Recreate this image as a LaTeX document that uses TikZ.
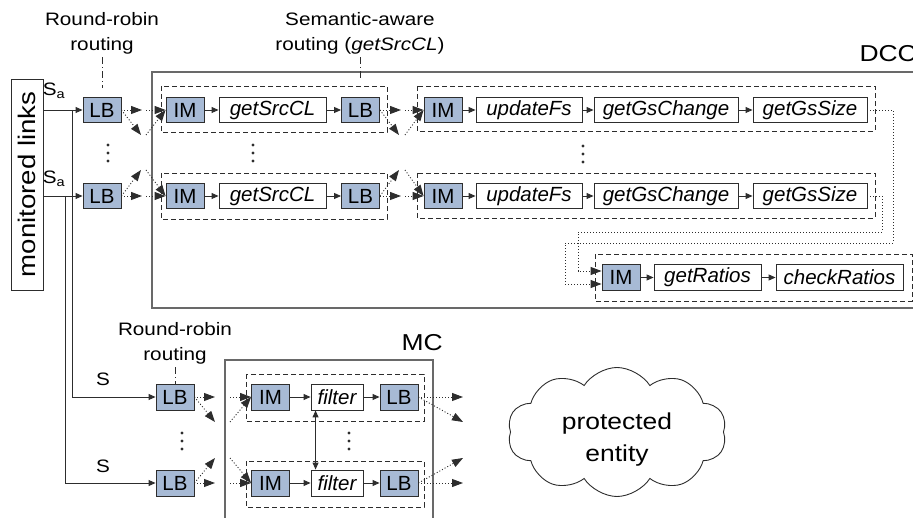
\documentclass[tikz,border=0pt]{standalone}
\usepackage{fontspec}
\setmainfont[FakeStretch=1.15]{Liberation Sans}
\newfontfamily\boxfam{Liberation Sans}
\usetikzlibrary{arrows.meta,shapes.symbols}

\definecolor{lbblue}{RGB}{167,186,213}
\definecolor{edgegray}{RGB}{45,45,45}
\definecolor{framegray}{RGB}{105,105,105}

\newcommand{\boxfont}{\boxfam\fontsize{20.5}{22}\selectfont}
\newcommand{\lblfont}{\fontsize{18}{25}\selectfont}
\newcommand{\bigfont}{\fontsize{23}{32}\selectfont}

\tikzset{
  blk/.style={draw=edgegray, line width=0.9pt, fill=lbblue, minimum width=38pt,
    minimum height=25pt, inner sep=0pt, font=\boxfont},
  fn/.style={draw=edgegray, line width=0.9pt, fill=white, minimum height=25pt,
    inner sep=0pt, font=\boxfont\itshape},
  grp/.style={draw=edgegray, line width=0.9pt, dash pattern=on 5pt off 3pt},
  frame/.style={draw=framegray, line width=1.4pt},
  link/.style={draw=edgegray, line width=0.9pt, -{Triangle[length=7pt,width=6pt]}},
  fan/.style={draw=edgegray, line width=0.9pt, dash pattern=on 1pt off 2pt,
    -{Triangle[length=11pt,width=8pt]}},
  marker/.style={draw=edgegray, line width=0.7pt, dash pattern=on 7pt off 3pt on 1pt off 3pt},
  vdot/.style={fill=edgegray},
}

\begin{document}
\begin{tikzpicture}[x=1pt,y=-1pt]
    \useasboundingbox (0,0) rectangle (913,518);

    % containers
    \draw[frame] (152,72) rectangle (920,308);
    \node[font=\bigfont, anchor=west] (dcc) at (856,54) {DCC};
    \draw[frame] (225,360) rectangle (433,530);
    \node[font=\bigfont, anchor=west] (mc) at (398,343) {MC};

    % dashed operator groups
    \draw[grp] (161,86) rectangle (387,132);
    \draw[grp] (161,173) rectangle (387,219);
    \draw[grp] (417,86) rectangle (875,131);
    \draw[grp] (417,173) rectangle (875,218);
    \draw[grp] (595,254) rectangle (912,301);
    \draw[grp] (246,374) rectangle (424,421);
    \draw[grp] (246,461) rectangle (424,507);

    % input
    \node[draw=edgegray, line width=0.9pt, rotate=90, minimum width=211pt, minimum height=32pt,
      inner sep=0pt, font=\fontsize{24}{26}\selectfont] (ml) at (27,184.5) {monitored links};

    % DCC rows
    \foreach \r/\y/\d in {1/110/25, 2/196/-26} {
        \node[blk] (lb\r) at (102,\y) {LB};
        \node[blk] (ima\r) at (185,\y) {IM};
        \node[fn, minimum width=107pt] (src\r) at (272.5,\y) {getSrcCL};
        \node[blk] (lba\r) at (360.5,\y) {LB};
        \node[blk] (imb\r) at (443,\y) {IM};
        \node[fn, minimum width=106pt] (upd\r) at (529,\y) {updateFs};
        \node[fn, minimum width=144pt] (chg\r) at (666,\y) {getGsChange};
        \node[fn, minimum width=114pt] (gsz\r) at (810,\y) {getGsSize};
        \draw[link] (ima\r) -- (src\r);
        \draw[link] (src\r) -- (lba\r);
        \draw[link] (imb\r) -- (upd\r);
        \draw[link] (upd\r) -- (chg\r);
        \draw[link] (chg\r) -- (gsz\r);
        % into DCC
        \coordinate (eh\r) at (142,\y);
        \coordinate (ed\r) at (141,{\y+(\d)});
        \coordinate (fh\r) at (146,\y);
        \coordinate (fd\r) at (146,{\y+(\d)});
        \draw[fan] (lb\r.east) -- (eh\r);
        \draw[fan] (lb\r.east) -- (ed\r);
        \draw[fan] (fh\r) -- (ima\r.west);
        \draw[fan] (fd\r) -- (ima\r.west);
        % between the two stages
        \coordinate (gh\r) at (401,\y);
        \coordinate (gd\r) at (399,{\y+(\d)});
        \coordinate (hh\r) at (405,\y);
        \coordinate (hd\r) at (405,{\y+(\d)});
        \draw[fan] (lba\r.east) -- (gh\r);
        \draw[fan] (lba\r.east) -- (gd\r);
        \draw[fan] (hh\r) -- (imb\r.west);
        \draw[fan] (hd\r) -- (imb\r.west);
    }

    % ratio group
    \node[blk, minimum height=26pt] (imc) at (621,277.5) {IM};
    \node[fn, minimum width=107pt, minimum height=26pt] (rat) at (707.5,277.5) {getRatios};
    \node[fn, minimum width=127pt, minimum height=26pt] (chk) at (839.5,277.5) {checkRatios};
    \draw[link] (imc) -- (rat);
    \draw[link] (rat) -- (chk);
    \coordinate (k1) at (893,243);
    \coordinate (k2) at (565,284);
    \coordinate (k3) at (882,232);
    \coordinate (k4) at (578,271);
    \draw[fan] (gsz1.east) -| (k1) -| (k2) -- (k2 -| imc.west);
    \draw[fan] (gsz2.east) -| (k3) -| (k4) -- (k4 -| imc.west);

    % MC rows
    \foreach \r/\y/\d in {1/397/25, 2/483/-25} {
        \node[blk, minimum height=26pt] (lbm\r) at (175,\y) {LB};
        \node[blk, minimum height=26pt] (imm\r) at (270.5,\y) {IM};
        \node[fn, minimum width=52pt, minimum height=26pt] (flt\r) at (337,\y) {filter};
        \node[blk, minimum height=26pt] (lbo\r) at (399,\y) {LB};
        \draw[link] (imm\r) -- (flt\r);
        \draw[link] (flt\r) -- (lbo\r);
        \coordinate (mh\r) at (215,\y);
        \coordinate (md\r) at (215,{\y+(\d)});
        \coordinate (nh\r) at (230,\y);
        \coordinate (nd\r) at (230,{\y+(\d)});
        \coordinate (oh\r) at (463,\y);
        \coordinate (od\r) at (463,{\y+(\d)});
        \draw[fan] (lbm\r.east) -- (mh\r);
        \draw[fan] (lbm\r.east) -- (md\r);
        \draw[fan] (nh\r) -- (imm\r.west);
        \draw[fan] (nd\r) -- (imm\r.west);
        \draw[fan] (lbo\r.east) -- (oh\r);
        \draw[fan] (lbo\r.east) -- (od\r);
    }
    \draw[draw=edgegray, line width=0.9pt, {Triangle[length=7pt,width=6pt]}-{Triangle[length=7pt,width=6pt]}]
        ([xshift=5pt]flt1.south west) -- ([xshift=5pt]flt2.north west);

    % input links
    \coordinate (sp1) at (72,110);
    \coordinate (sp2) at (65,196);
    \draw[link] (ml.south |- lb1) -- (lb1);
    \draw[link] (ml.south |- lb2) -- (lb2);
    \draw[link] (sp1) |- (lbm1);
    \draw[link] (sp2) |- (lbm2);
    \node[font=\lblfont] (sa1) at (54,91) {S\textsubscript{a}};
    \node[font=\lblfont] (sa2) at (54,179) {S\textsubscript{a}};
    \node[font=\lblfont] (s1) at (103,379) {S};
    \node[font=\lblfont] (s2) at (103,466) {S};

    % routing labels
    \node[font=\lblfont, align=center] (rr1) at (102,33) {Round-robin\\routing};
    \node[font=\lblfont, align=center] (sem) at (360,33) {Semantic-aware\\routing (\textit{getSrcCL})};
    \node[font=\lblfont, align=center] (rr2) at (175,343) {Round-robin\\routing};
    \coordinate (rrend) at (102,88);
    \coordinate (semend) at (360,78);
    \draw[marker] (rr1.south) -- (rrend);
    \draw[marker] (sem.south) -- (semend);
    \draw[marker] (rr2.south) -- (lbm1.north);

    % vertical dots
    \foreach \x/\y in {108/153, 253/153, 583/154, 182/441, 349/441}
        \foreach \k in {-8,0,8}
            \fill[vdot] (\x,{\y+\k}) circle (1.6);

    % protected entity
    \node[cloud, draw=edgegray, line width=0.9pt, cloud puffs=10, cloud puff arc=115, aspect=1.7,
      minimum width=219pt, minimum height=129pt, inner sep=0pt] (pe) at (617,432) {};
    \node[font=\bigfont, align=center] (pelbl) at (617,440) {protected\\entity};
\end{tikzpicture}
\end{document}
